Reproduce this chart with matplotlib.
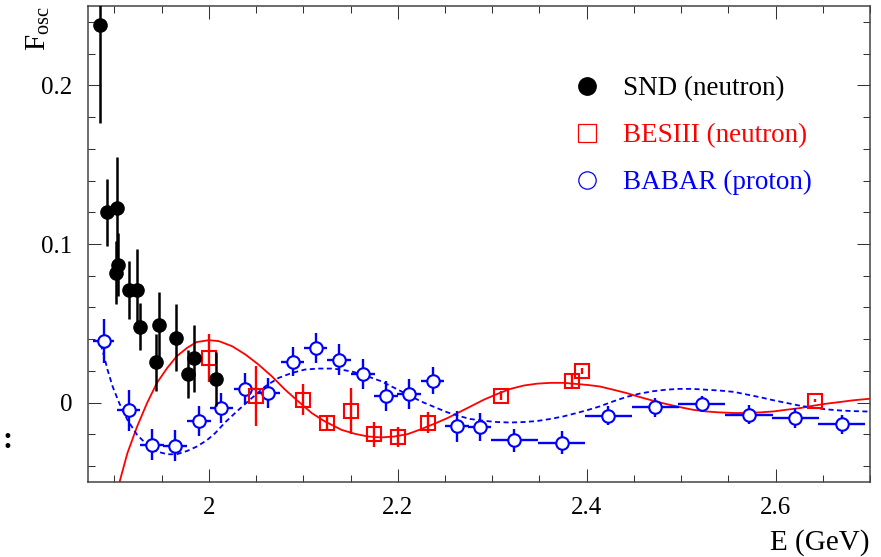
import matplotlib
matplotlib.use("Agg")
import matplotlib.pyplot as plt
from matplotlib.ticker import MultipleLocator, FuncFormatter
from matplotlib.lines import Line2D

plt.rcParams['font.family'] = ['Liberation Serif', 'DejaVu Serif']
plt.rcParams['mathtext.fontset'] = 'custom'
plt.rcParams['mathtext.rm'] = 'Liberation Serif'

# SND neutron points
snd_e = [1.885, 1.8916, 1.903, 1.902, 1.904, 1.915, 1.924, 1.927, 1.944, 1.947, 1.965, 1.978, 1.984, 2.008]
snd_f = [0.238, 0.120, 0.123, 0.082, 0.087, 0.071, 0.071, 0.048, 0.0255, 0.049, 0.041, 0.018, 0.028, 0.015]
snd_err = [0.062, 0.021, 0.032, 0.020, 0.020, 0.018, 0.026, 0.015, 0.018, 0.021, 0.021, 0.015, 0.021, 0.017]

# BESIII neutron points
bes_e = [2.0, 2.05, 2.1, 2.125, 2.15, 2.175, 2.2, 2.232, 2.309, 2.385, 2.395, 2.642]
bes_f = [0.028, 0.0044, 0.002, -0.0129, -0.0051, -0.0199, -0.0217, -0.0125, 0.0044, 0.0139, 0.020, 0.0013]
bes_err = [0.015, 0.019, 0.0095, 0.004, 0.0146, 0.008, 0.0063, 0.0065, 0.003, 0.005, 0.002, 0.001]

# BABAR proton points
babar_e = [1.8885, 1.915, 1.9397, 1.964, 1.9895, 2.0133, 2.0386, 2.063, 2.0887, 2.113,
           2.1376, 2.163, 2.1877, 2.2116, 2.2368, 2.2624, 2.2866, 2.3235, 2.3737, 2.4228,
           2.4726, 2.522, 2.572, 2.621, 2.670]
babar_f = [0.039, -0.0049, -0.0266, -0.027, -0.0118, -0.0034, 0.0089, 0.0061, 0.0258, 0.0346,
           0.0272, 0.0181, 0.0044, 0.0057, 0.0139, -0.015, -0.0154, -0.0238, -0.0251, -0.0082,
           -0.003, -0.0006, -0.0076, -0.0097, -0.0135]
babar_ferr = [0.014, 0.0127, 0.0098, 0.0095, 0.0095, 0.0095, 0.0095, 0.0095, 0.0092, 0.0095,
              0.0095, 0.0095, 0.0095, 0.0095, 0.0085, 0.0095, 0.0088, 0.0075, 0.0075, 0.006,
              0.006, 0.005, 0.006, 0.0065, 0.006]
babar_eerr = [0.0115, 0.0125, 0.0125, 0.0125, 0.0125, 0.0125, 0.0125, 0.0125, 0.0125, 0.0125,
              0.0125, 0.0125, 0.0125, 0.0125, 0.0125, 0.0125, 0.0125, 0.025, 0.025, 0.025,
              0.025, 0.025, 0.025, 0.025, 0.025]

# fit curve through BESIII points
red_e = [1.905, 1.9137, 1.924, 1.9347, 1.945, 1.956, 1.966, 1.977, 1.987, 2.0,
         2.0105, 2.0246, 2.0386, 2.0526, 2.0667, 2.0807, 2.0947, 2.1088, 2.1228, 2.1404,
         2.1544, 2.1684, 2.1825, 2.1965, 2.2105, 2.2246, 2.2386, 2.2526, 2.2667, 2.2912,
         2.3053, 2.3193, 2.3333, 2.3474, 2.3614, 2.3754, 2.3895, 2.4035, 2.414, 2.428,
         2.442, 2.456, 2.470, 2.484, 2.498, 2.512, 2.526, 2.540, 2.556, 2.570,
         2.584, 2.598, 2.612, 2.626, 2.640, 2.654, 2.668, 2.682, 2.70]
red_f = [-0.0508, -0.0318, -0.015, 0.0, 0.0125, 0.022, 0.0293, 0.0346, 0.0382, 0.0394,
         0.0388, 0.0356, 0.0304, 0.024, 0.0166, 0.0082, 0.0008, -0.0065, -0.0118, -0.0171,
         -0.0196, -0.0213, -0.0219, -0.0213, -0.0198, -0.0167, -0.0133, -0.0097, -0.0055, 0.0019,
         0.0055, 0.0087, 0.0108, 0.012, 0.0125, 0.0125, 0.0118, 0.011, 0.0102, 0.0082,
         0.0061, 0.0036, 0.0013, -0.0008, -0.0027, -0.0044, -0.0055, -0.0061, -0.0065, -0.0065,
         -0.0061, -0.0055, -0.0044, -0.0034, -0.0019, -0.0006, 0.0004, 0.0015, 0.0025]

# fit curve through BABAR points
blue_e = [1.8856, 1.889, 1.8926, 1.898, 1.905, 1.9137, 1.924, 1.9347, 1.945, 1.956,
          1.966, 1.977, 1.987, 1.998, 2.0066, 2.0175, 2.0316, 2.0456, 2.0597, 2.0737,
          2.0877, 2.1018, 2.1158, 2.1298, 2.140, 2.1544, 2.168, 2.1825, 2.1965, 2.2105,
          2.2246, 2.2386, 2.2526, 2.2667, 2.277, 2.291, 2.305, 2.319, 2.333, 2.347,
          2.361, 2.375, 2.3895, 2.4035, 2.414, 2.428, 2.442, 2.456, 2.470, 2.484,
          2.498, 2.512, 2.526, 2.540, 2.556, 2.570, 2.584, 2.598, 2.612, 2.626,
          2.640, 2.654, 2.668, 2.682, 2.70]
blue_f = [0.0367, 0.0293, 0.0209, 0.0103, -0.0002, -0.0108, -0.0203, -0.0266, -0.0308, -0.0325,
          -0.0325, -0.0304, -0.0277, -0.0236, -0.0192, -0.0122, -0.0044, 0.003, 0.0103, 0.0156,
          0.0187, 0.0209, 0.0215, 0.0215, 0.0209, 0.0192, 0.0166, 0.0135, 0.0093, 0.0051,
          0.0008, -0.0027, -0.0061, -0.0087, -0.0103, -0.0114, -0.0122, -0.0125, -0.0122, -0.0116,
          -0.0103, -0.0087, -0.0065, -0.0042, -0.0023, 0.0008, 0.0036, 0.0057, 0.0072, 0.0082,
          0.0087, 0.0087, 0.0082, 0.0077, 0.0068, 0.0051, 0.0034, 0.0015, -0.0002, -0.0019,
          -0.0032, -0.0042, -0.0049, -0.0053, -0.0056]

fig = plt.figure(figsize=(8.81, 5.57), dpi=100)
ax = fig.add_axes([0.0999, 0.1346, 0.8876, 0.8546])

ax.plot(red_e, red_f, color='red', lw=1.3, zorder=2)
ax.plot(blue_e, blue_f, color='blue', lw=1.3, ls=(0, (2.8, 1.9)), zorder=2)

ax.errorbar(babar_e, babar_f, yerr=babar_ferr, xerr=babar_eerr, fmt='o', ms=9, mew=1.5,
            mec='blue', mfc='white', ecolor='blue', elinewidth=1.7, capsize=0, zorder=3)
ax.errorbar(bes_e, bes_f, yerr=bes_err, fmt='s', ms=10, mew=1.5,
            mec='red', mfc='none', ecolor='red', elinewidth=1.7, capsize=0, zorder=4)
ax.errorbar(snd_e, snd_f, yerr=snd_err, fmt='o', ms=9.5, color='black',
            elinewidth=1.8, capsize=0, zorder=5)

ax.set_xlim(1.872, 2.7)
ax.set_ylim(-0.05, 0.25)

ax.xaxis.set_major_locator(MultipleLocator(0.2))
ax.xaxis.set_minor_locator(MultipleLocator(0.05))
ax.yaxis.set_major_locator(MultipleLocator(0.1))
ax.yaxis.set_minor_locator(MultipleLocator(0.02))
fmt = FuncFormatter(lambda v, p: '%g' % round(v, 6))
ax.xaxis.set_major_formatter(fmt)
ax.yaxis.set_major_formatter(fmt)

ax.tick_params(which='both', direction='in', top=True, right=True, width=0.75, color='#333333')
ax.tick_params(which='major', length=9.4, labelsize=18)
ax.tick_params(which='minor', length=5)
ax.tick_params(axis='y', which='major', pad=11)
ax.tick_params(axis='x', which='major', pad=11)
for s in ax.spines.values():
    s.set_linewidth(1.1)
    s.set_color('#444444')

ax.set_xlabel('E (GeV)', fontsize=21, loc='right')
ax.set_ylabel(r'F$_{\rm osc}$', fontsize=21, loc='top')
ax.yaxis.set_label_coords(-0.046, 1.0)
ax.xaxis.set_label_coords(1.0, -0.099)

handles = [
    Line2D([], [], ls='none', marker='o', ms=12.5, color='black'),
    Line2D([], [], ls='none', marker='s', ms=12.5, mfc='none', mec='red', mew=0.9),
    Line2D([], [], ls='none', marker='o', ms=12.5, mfc='none', mec='blue', mew=0.9),
]
labels = ['SND (neutron)', 'BESIII (neutron)', 'BABAR (proton)']
ax.legend(handles, labels, loc='center left', bbox_to_anchor=(0.617, 0.727), frameon=False,
          fontsize=19.5, labelcolor=['black', 'red', 'blue'], handlelength=1.2,
          handletextpad=0.73, labelspacing=0.81, borderaxespad=0, borderpad=0)

fig.text(0.003, 0.195, ':', fontsize=22, fontweight='bold')

fig.savefig('out.png', dpi=100)
